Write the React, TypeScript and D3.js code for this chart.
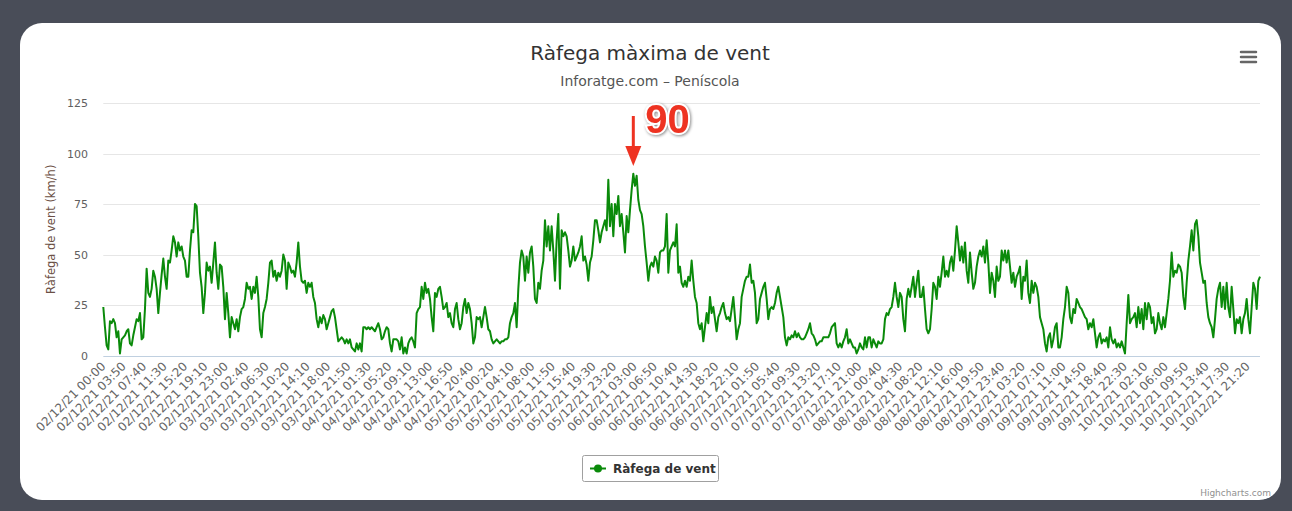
import React, { useEffect, useRef } from "react";
import * as d3 from "d3";

const WIDTH = 1292;
const HEIGHT = 511;

const yTicks = [0, 25, 50, 75, 100, 125];

// categories on the x axis: one label every 23 readings
const LABEL_STEP = 23;
const CATEGORY_COUNT = 1303;
const xLabels = [
    "02/12/21 00:00", "02/12/21 03:50", "02/12/21 07:40", "02/12/21 11:30", "02/12/21 15:20", "02/12/21 19:10", "02/12/21 23:00",
    "03/12/21 02:40", "03/12/21 06:30", "03/12/21 10:20", "03/12/21 14:10", "03/12/21 18:00", "03/12/21 21:50",
    "04/12/21 01:30", "04/12/21 05:20", "04/12/21 09:10", "04/12/21 13:00", "04/12/21 16:50", "04/12/21 20:40",
    "05/12/21 00:20", "05/12/21 04:10", "05/12/21 08:00", "05/12/21 11:50", "05/12/21 15:40", "05/12/21 19:30", "05/12/21 23:20",
    "06/12/21 03:00", "06/12/21 06:50", "06/12/21 10:40", "06/12/21 14:30", "06/12/21 18:20", "06/12/21 22:10",
    "07/12/21 01:50", "07/12/21 05:40", "07/12/21 09:30", "07/12/21 13:20", "07/12/21 17:10", "07/12/21 21:00",
    "08/12/21 00:40", "08/12/21 04:30", "08/12/21 08:20", "08/12/21 12:10", "08/12/21 16:00", "08/12/21 19:50", "08/12/21 23:40",
    "09/12/21 03:20", "09/12/21 07:10", "09/12/21 11:00", "09/12/21 14:50", "09/12/21 18:40", "09/12/21 22:30",
    "10/12/21 02:10", "10/12/21 06:00", "10/12/21 09:50", "10/12/21 13:40", "10/12/21 17:30", "10/12/21 21:20",
];

// wind gust (km/h), evenly spaced readings across the whole period
const gust = [
    24, 14, 5, 3, 17, 16, 18, 16, 9, 12, 1, 8, 9, 10, 12, 13, 6, 5, 10, 14, 18, 17, 21, 8, 9, 23, 43, 31, 29, 33,
    42, 39, 33, 21, 31, 40, 48, 39, 33, 47, 46, 52, 59, 56, 49, 56, 52, 54, 49, 47, 39, 39, 52, 62, 61, 75, 74, 59, 41, 34,
    21, 31, 46, 42, 44, 36, 46, 56, 41, 33, 45, 44, 34, 18, 31, 21, 9, 19, 16, 13, 18, 12, 19, 23, 24, 28, 36, 33, 34,
    28, 34, 31, 39, 29, 13, 9, 21, 24, 28, 36, 46, 47, 39, 42, 37, 41, 39, 42, 50, 47, 33, 46, 44, 41, 42, 39, 46, 56,
    44, 37, 36, 37, 31, 36, 34, 36, 29, 26, 18, 14, 19, 16, 20, 18, 13, 16, 19, 22, 23, 19, 13, 7, 8, 9, 8, 6, 8, 6,
    8, 4, 3, 2, 6, 3, 6, 2, 14, 14, 13, 14, 13, 14, 13, 12, 14, 16, 13, 8, 9, 12, 14, 13, 6, 2, 8, 8,
    8, 7, 3, 9, 1, 4, 1, 6, 8, 9, 7, 4, 21, 23, 24, 34, 28, 36, 31, 33, 28, 19, 12, 31, 29, 33, 34, 29, 23, 24,
    26, 19, 21, 16, 14, 23, 26, 18, 13, 16, 24, 28, 21, 26, 23, 16, 6, 9, 19, 18, 19, 14, 19, 24, 19, 13, 12, 8, 6, 7,
    8, 7, 6, 7, 7, 8, 8, 9, 16, 19, 21, 26, 14, 33, 46, 52, 49, 37, 49, 41, 51, 54, 44, 28, 26, 36, 33,
    42, 47, 67, 54, 64, 52, 64, 52, 37, 57, 70, 33, 62, 59, 61, 59, 52, 44, 47, 54, 47, 49, 51, 54, 59, 47, 49, 45, 37,
    46, 49, 57, 67, 67, 62, 56, 61, 64, 67, 62, 87, 64, 75, 59, 75, 70, 79, 64, 70, 61, 51, 69, 61, 72, 82, 90, 84, 89,
    77, 72, 70, 64, 54, 46, 37, 44, 46, 44, 49, 47, 41, 51, 52, 52, 54, 70, 41, 52, 54, 56, 54, 65, 41, 44, 36, 34, 37,
    34, 39, 37, 47, 37, 29, 26, 16, 13, 16, 7, 14, 21, 16, 29, 21, 24, 18, 12, 19, 21, 24, 26, 21, 18, 19, 17, 23, 29,
    19, 8, 13, 16, 29, 33, 37, 39, 39, 45, 36, 37, 31, 16, 18, 28, 31, 34, 36, 28, 18, 23, 24, 23, 26, 31, 34, 29, 24,
    19, 9, 5, 9, 8, 10, 9, 12, 9, 11, 9, 8, 8, 9, 11, 13, 16, 11, 10, 8, 5, 6, 7, 7, 9, 9, 9, 9, 11,
    14, 15, 16, 6, 4, 6, 4, 7, 9, 13, 6, 8, 6, 4, 4, 1, 3, 6, 4, 3, 9, 4, 9, 9, 4, 8, 6, 4, 7, 6,
    6, 8, 18, 21, 20, 23, 24, 29, 36, 29, 24, 31, 29, 18, 12, 28, 33, 29, 34, 39, 29, 36, 42, 29, 29, 34, 23, 13, 11,
    13, 23, 36, 34, 28, 39, 34, 41, 49, 39, 42, 39, 46, 49, 42, 52, 64, 56, 47, 54, 46, 56, 42, 36, 51, 41, 33, 36,
    44, 49, 52, 49, 54, 46, 57, 46, 31, 41, 37, 29, 44, 37, 39, 52, 47, 52, 46, 52, 44, 36, 41, 34, 39, 41, 44, 28, 39,
    37, 47, 31, 26, 37, 31, 36, 34, 29, 19, 16, 13, 6, 2, 9, 11, 4, 8, 14, 16, 4, 4, 9, 18, 24, 34, 31, 19, 16, 23,
    21, 28, 26, 24, 23, 21, 19, 18, 13, 16, 14, 18, 11, 4, 9, 11, 6, 8, 7, 9, 4, 14, 8, 6, 8, 4, 6, 4,
    7, 4, 1, 16, 30, 16, 18, 19, 21, 14, 24, 16, 23, 13, 26, 18, 26, 24, 16, 19, 11, 13, 21, 16, 13, 19, 14, 21, 28,
    37, 51, 39, 42, 41, 45, 44, 41, 29, 23, 36, 47, 54, 62, 52, 65, 67, 59, 46, 41, 36, 37, 26, 19, 16, 14, 9, 18,
    28, 33, 36, 24, 34, 23, 36, 24, 19, 34, 23, 11, 18, 16, 19, 11, 18, 21, 28, 18, 11, 24, 36, 33, 23, 37, 39,
];

const TITLE = "Ràfega màxima de vent";
const SUBTITLE = "Inforatge.com – Peníscola";
const SERIES_NAME = "Ràfega de vent";
const Y_TITLE = "Ràfega de vent (km/h)";

const FONT = '"DejaVu Sans", Verdana, sans-serif';

function App() {
    const svgRef = useRef(null);

    useEffect(() => {
        const svg = d3.select(svgRef.current);
        svg.selectAll("*").remove();

        const plot = { left: 103.3, right: 1260, top: 103, bottom: 355.5 };

        const x = d3
            .scaleLinear()
            .domain([0, CATEGORY_COUNT - 1])
            .range([plot.left, plot.right]);

        const y = d3
            .scaleLinear()
            .domain([0, 125])
            .range([plot.bottom, plot.top]);

        const step = (CATEGORY_COUNT - 1) / (gust.length - 1);

        // frame and card
        svg.append("rect")
            .attr("width", WIDTH)
            .attr("height", HEIGHT)
            .attr("fill", "#494d58");

        svg.append("rect")
            .attr("x", 20)
            .attr("y", 23)
            .attr("width", 1261)
            .attr("height", 477)
            .attr("rx", 22)
            .attr("fill", "#ffffff");

        // titles
        svg.append("text")
            .attr("x", 650)
            .attr("y", 60)
            .attr("text-anchor", "middle")
            .attr("font-family", FONT)
            .attr("font-size", 20)
            .attr("fill", "#333333")
            .text(TITLE);

        svg.append("text")
            .attr("x", 650)
            .attr("y", 86)
            .attr("text-anchor", "middle")
            .attr("font-family", FONT)
            .attr("font-size", 14)
            .attr("fill", "#555555")
            .text(SUBTITLE);

        // menu button
        const menu = svg.append("g").attr("stroke", "#666666").attr("stroke-width", 2.5).attr("stroke-linecap", "round");
        [52, 57, 62].forEach(yy => {
            menu.append("line").attr("x1", 1241).attr("x2", 1256).attr("y1", yy).attr("y2", yy);
        });

        // grid + y labels
        svg.append("g")
            .selectAll("line")
            .data(yTicks.filter(d => d > 0))
            .enter()
            .append("line")
            .attr("x1", plot.left)
            .attr("x2", plot.right)
            .attr("y1", d => Math.round(y(d)) + 0.5)
            .attr("y2", d => Math.round(y(d)) + 0.5)
            .attr("stroke", "#e6e6e6");

        svg.append("g")
            .selectAll("text")
            .data(yTicks)
            .enter()
            .append("text")
            .attr("x", 88)
            .attr("y", d => y(d) + 4)
            .attr("text-anchor", "end")
            .attr("font-family", FONT)
            .attr("font-size", 11)
            .attr("fill", "#606060")
            .text(d => d);

        svg.append("text")
            .attr("transform", `translate(55, ${(plot.top + plot.bottom) / 2}) rotate(-90)`)
            .attr("text-anchor", "middle")
            .attr("font-family", FONT)
            .attr("font-size", 11.5)
            .attr("fill", "#6b4f45")
            .text(Y_TITLE);

        // x axis
        svg.append("line")
            .attr("x1", plot.left)
            .attr("x2", plot.right)
            .attr("y1", Math.round(y(0)) + 0.5)
            .attr("y2", Math.round(y(0)) + 0.5)
            .attr("stroke", "#c0d0e0");

        svg.append("g")
            .selectAll("text")
            .data(xLabels)
            .enter()
            .append("text")
            .attr("transform", (d, i) => `translate(${x(i * LABEL_STEP) + 3}, 367) rotate(-45)`)
            .attr("text-anchor", "end")
            .attr("font-family", FONT)
            .attr("font-size", 12)
            .attr("fill", "#666666")
            .text(d => d);

        // series
        const line = d3
            .line()
            .x((d, i) => x(i * step))
            .y(d => y(d));

        svg.append("path")
            .datum(gust)
            .attr("d", line)
            .attr("fill", "none")
            .attr("stroke", "#0a8a0a")
            .attr("stroke-width", 2)
            .attr("stroke-linejoin", "round");

        // legend
        const legend = svg.append("g").attr("transform", "translate(582, 455)");
        legend.append("rect")
            .attr("x", 0.5)
            .attr("y", 0.5)
            .attr("width", 136)
            .attr("height", 26)
            .attr("rx", 2)
            .attr("fill", "#ffffff")
            .attr("stroke", "#a0a0a0");
        legend.append("line")
            .attr("x1", 8)
            .attr("x2", 24)
            .attr("y1", 13.5)
            .attr("y2", 13.5)
            .attr("stroke", "#0a8a0a")
            .attr("stroke-width", 2);
        legend.append("circle")
            .attr("cx", 16)
            .attr("cy", 13.5)
            .attr("r", 4)
            .attr("fill", "#0a8a0a");
        legend.append("text")
            .attr("x", 31)
            .attr("y", 18)
            .attr("font-family", FONT)
            .attr("font-size", 12)
            .attr("font-weight", "bold")
            .attr("fill", "#333333")
            .text(SERIES_NAME);

        // credits
        svg.append("text")
            .attr("x", 1271)
            .attr("y", 496)
            .attr("text-anchor", "end")
            .attr("font-family", FONT)
            .attr("font-size", 9)
            .attr("fill", "#909090")
            .text("Highcharts.com");

        // peak annotation
        const peak = d3.max(gust);
        const peakX = x(gust.indexOf(peak) * step);
        const red = "#ee3322";

        svg.append("line")
            .attr("x1", peakX)
            .attr("x2", peakX)
            .attr("y1", 116)
            .attr("y2", 150)
            .attr("stroke", red)
            .attr("stroke-width", 3);
        svg.append("path")
            .attr("d", `M${peakX - 8},146 L${peakX + 8},146 L${peakX},166 Z`)
            .attr("fill", red);

        svg.append("text")
            .attr("x", peakX + 12)
            .attr("y", 133)
            .attr("font-family", '"Liberation Sans", Arial, sans-serif')
            .attr("font-size", 40)
            .attr("font-weight", "bold")
            .attr("fill", red)
            .attr("stroke", "#ffffff")
            .attr("stroke-width", 4)
            .attr("paint-order", "stroke")
            .style("filter", "drop-shadow(1px 1px 1.5px rgba(0,0,0,0.45))")
            .text(peak);
    }, []);

    return (
        <div style={{ position: "fixed", left: 0, top: 0 }}>
            <svg ref={svgRef} width={WIDTH} height={HEIGHT} style={{ display: "block" }}></svg>
        </div>
    );
}

export default App;
